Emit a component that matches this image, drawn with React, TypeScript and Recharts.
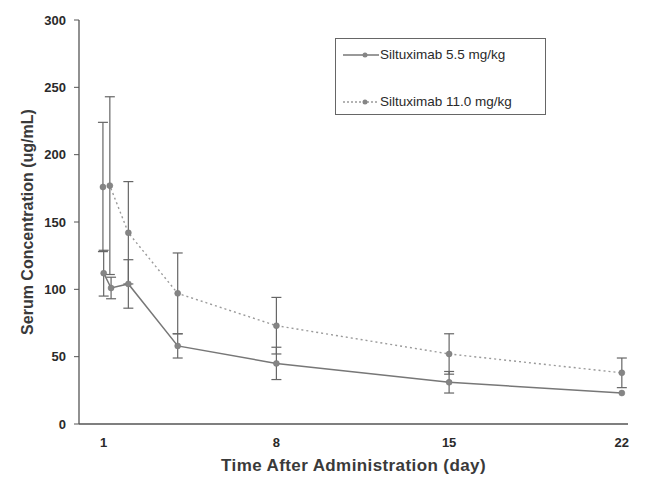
import React from 'react';
import { LineChart, Line, XAxis, YAxis, ErrorBar, Legend } from 'recharts';

// 5.5 mg/kg arm
const days55 = [1.0, 1.3, 2, 4, 8, 15, 22];
const conc55 = [112, 101, 104, 58, 45, 31, 23];
const sd55 = [17, 8, 18, 9, 12, 8, 0];

// 11.0 mg/kg arm
const days110 = [0.97, 1.25, 2, 4, 8, 15, 22];
const conc110 = [176, 177, 142, 97, 73, 52, 38];
const sd110 = [48, 66, 38, 30, 21, 15, 11];

const xTicks = [1, 8, 15, 22];
const yTicks = [0, 50, 100, 150, 200, 250, 300];
const seriesNames = ['Siltuximab 5.5 mg/kg', 'Siltuximab 11.0 mg/kg'];

const low = days55.map((d, i) => ({ day: d, conc: conc55[i], sd: sd55[i] }));
const high = days110.map((d, i) => ({ day: d, conc: conc110[i], sd: sd110[i] }));

const FONT = '"Liberation Sans", Arial, sans-serif';

const Dot = (props: any) => {
  const { cx, cy } = props;
  if (cx == null || cy == null) return null;
  return <circle cx={cx} cy={cy} r={3} fill="#858585" stroke="#777" strokeWidth={0.5} />;
};

const LegendBox = () => (
  <div
    style={{
      width: 209,
      height: 75,
      border: '1px solid #666',
      background: '#fff',
      fontFamily: FONT,
      fontSize: 13.5,
      color: '#2a2a2a',
      position: 'relative',
    }}
  >
    {seriesNames.map((name, i) => (
      <div
        key={name}
        style={{ position: 'absolute', left: 7, top: i === 0 ? 8 : 55, display: 'flex', alignItems: 'center' }}
      >
        <svg width={36} height={10}>
          <line
            x1={0}
            y1={5}
            x2={36}
            y2={5}
            stroke={i === 0 ? '#777' : '#9a9a9a'}
            strokeWidth={1.3}
            strokeDasharray={i === 0 ? undefined : '2 2'}
          />
          <circle cx={22} cy={5} r={2.5} fill="#858585" />
        </svg>
        <span style={{ marginLeft: 1 }}>{name}</span>
      </div>
    ))}
  </div>
);

export default function App() {
  return (
    <div style={{ position: 'absolute', left: 0, top: 0, background: '#fff' }}>
      <LineChart width={647} height={479} margin={{ top: 20, right: 19, bottom: 5, left: 19 }}>
        <XAxis
          type="number"
          dataKey="day"
          domain={[0, 22.25]}
          ticks={xTicks}
          allowDuplicatedCategory={false}
          tickLine={false}
          tickMargin={8}
          axisLine={{ stroke: '#555', strokeWidth: 1.3 }}
          tick={{ fill: '#2a2a2a', fontSize: 13, fontWeight: 700, fontFamily: FONT }}
          height={50}
          label={{
            value: 'Time After Administration (day)',
            position: 'insideBottom',
            offset: 3,
            style: { fill: '#3a3a3a', fontSize: 17, fontWeight: 700, fontFamily: FONT, letterSpacing: 0.4 },
          }}
        />
        <YAxis
          type="number"
          domain={[0, 300]}
          ticks={yTicks}
          width={60}
          tickSize={5}
          tickMargin={8}
          axisLine={{ stroke: '#555', strokeWidth: 1.3 }}
          tickLine={{ stroke: '#555' }}
          tick={{ fill: '#2a2a2a', fontSize: 13, fontWeight: 700, fontFamily: FONT }}
          label={{
            value: 'Serum Concentration (ug/mL)',
            angle: -90,
            position: 'insideLeft',
            offset: 8,
            style: { fill: '#3a3a3a', fontSize: 16, fontWeight: 700, fontFamily: FONT, textAnchor: 'middle' },
          }}
        />
        <Legend
          layout="horizontal"
          verticalAlign="middle"
          align="center"
          content={() => <LegendBox />}
          wrapperStyle={{ left: 335, top: 38, width: 211, height: 77 }}
        />
        <Line
          data={high}
          dataKey="conc"
          name={seriesNames[1]}
          stroke="#9a9a9a"
          strokeWidth={1.4}
          strokeDasharray="2 3"
          dot={<Dot />}
          activeDot={false}
          isAnimationActive={false}
        >
          <ErrorBar dataKey="sd" width={5} stroke="#666" strokeWidth={1.2} direction="y" />
        </Line>
        <Line
          data={low}
          dataKey="conc"
          name={seriesNames[0]}
          stroke="#777"
          strokeWidth={1.5}
          dot={<Dot />}
          activeDot={false}
          isAnimationActive={false}
        >
          <ErrorBar dataKey="sd" width={5} stroke="#666" strokeWidth={1.2} direction="y" />
        </Line>
      </LineChart>
    </div>
  );
}
